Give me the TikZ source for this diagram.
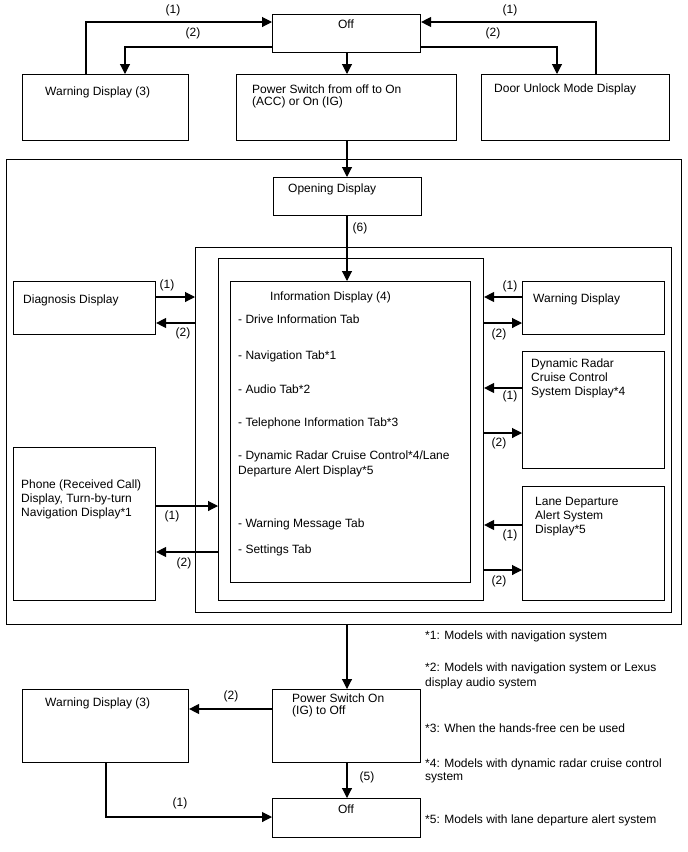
\documentclass[tikz,border=0pt]{standalone}
\usepackage{fontspec}
\setmainfont{Liberation Sans}
\usetikzlibrary{positioning, arrows.meta}

\begin{document}
\begin{tikzpicture}[x=1pt, y=-1pt,
    blk/.style={draw, line width=1.1pt, inner sep=0pt, anchor=north west},
    txt/.style={inner sep=0pt, anchor=base west, align=left,
      font=\fontsize{12}{14}\selectfont},
    tag/.style={inner sep=0pt, font=\fontsize{12}{12}\selectfont},
    arr/.style={-{Triangle[length=10pt, width=10pt]}, line width=1.1pt}]
  \useasboundingbox (0,0) rectangle (688,852);
  % top row
  \node[blk, minimum width=148pt, minimum height=38pt] (off1) at (272,14) {};
  \node[blk, minimum width=166pt, minimum height=66pt] (warn1) at (22,74) {};
  \node[blk, minimum width=220pt, minimum height=66pt] (pwr1) at (236,74) {};
  \node[blk, minimum width=188pt, minimum height=66pt] (door) at (481,74) {};
  \node[tag, anchor=base] (toff1) at (346,28) {Off};
  \node[txt] (twarn1) at (45,95) {Warning Display (3)};
  \node[txt, font=\fontsize{12}{12}\selectfont] (tpwr1) at (252,105) {Power Switch from off to On\\(ACC) or On (IG)};
  \node[txt] (tdoor) at (494,92) {Door Unlock Mode Display};
  \draw[arr] (warn1.north -| 86,0) |- (off1.west |- 0,22);
  \draw[arr] (off1.west |- 0,47) -| (warn1.north -| 125,0);
  \draw[arr] (door.north -| 596,0) |- (off1.east |- 0,22);
  \draw[arr] (off1.east |- 0,47) -| (door.north -| 557,0);
  \draw[arr] (off1.south -| 347,0) -- (pwr1.north -| 347,0);
  \node[tag] (l1a) at (173,10) {(1)};
  \node[tag] (l2a) at (193,33) {(2)};
  \node[tag] (l1b) at (510,10) {(1)};
  \node[tag] (l2b) at (493,33) {(2)};

  % frames
  \node[blk, minimum width=675pt, minimum height=465pt] (frame) at (6,159) {};
  \node[blk, minimum width=148pt, minimum height=38pt] (open) at (273,177) {};
  \node[txt] (topen) at (288,192) {Opening Display};
  \draw[arr] (pwr1.south -| 347,0) -- (open.north -| 347,0);
  \node[blk, minimum width=476pt, minimum height=365pt] (box2) at (195,247) {};
  \node[blk, minimum width=265pt, minimum height=342pt] (box3) at (218,258) {};
  \node[blk, minimum width=240pt, minimum height=301pt] (info) at (230,281) {};
  \draw[arr] (open.south -| 347,0) -- (info.north -| 347,0);
  \node[tag] (l6) at (360,228) {(6)};

  % information display
  \node[txt] (tinfo) at (270,300) {Information Display (4)};
  \foreach \y/\t [count=\i] in {323/Drive Information Tab, 359/Navigation Tab*1,
      393/Audio Tab*2, 426/Telephone Information Tab*3,
      474/{Dynamic Radar Cruise Control*4/Lane\\Departure Alert Display*5},
      527/Warning Message Tab, 553/Settings Tab}
    \node[txt, font=\fontsize{12}{15}\selectfont] (item\i) at (238,\y) {- \t};

  % left side
  \node[blk, minimum width=142pt, minimum height=53pt] (diag) at (13,281) {};
  \node[txt] (tdiag) at (23,303) {Diagnosis Display};
  \node[blk, minimum width=142pt, minimum height=153pt] (phone) at (13,447) {};
  \node[txt] (tphone) at (21,516) {Phone (Received Call)\\Display, Turn-by-turn\\Navigation Display*1};
  \draw[arr] (diag.east |- 0,297) -- (box2.west |- 0,297);
  \draw[arr] (box2.west |- 0,323) -- (diag.east |- 0,323);
  \draw[arr] (phone.east |- 0,506) -- (box3.west |- 0,506);
  \draw[arr] (box3.west |- 0,552) -- (phone.east |- 0,552);
  \node[tag] (l1c) at (167,285) {(1)};
  \node[tag] (l2c) at (183,333) {(2)};
  \node[tag] (l1d) at (172,516) {(1)};
  \node[tag] (l2d) at (184,563) {(2)};

  % right side
  \node[blk, minimum width=142pt, minimum height=53pt] (warn2) at (522,281) {};
  \node[txt] (twarn2) at (533,302) {Warning Display};
  \node[blk, minimum width=142pt, minimum height=117pt] (dyn) at (522,351) {};
  \node[txt] (tdyn) at (531,395) {Dynamic Radar\\Cruise Control\\System Display*4};
  \node[blk, minimum width=142pt, minimum height=114pt] (lane) at (522,486) {};
  \node[txt] (tlane) at (535,533) {Lane Departure\\Alert System\\Display*5};
  \foreach \n/\a/\b/\p/\q in {warn2/297/323/286/334, dyn/388/433/396/443, lane/525/570/535/581} {
    \draw[arr] (\n.west |- 0,\a) -- (box3.east |- 0,\a);
    \draw[arr] (box3.east |- 0,\b) -- (\n.west |- 0,\b);
    \node[tag] (p\n) at (510,\p) {(1)};
    \node[tag] (q\n) at (499,\q) {(2)};
  }

  % bottom
  \node[blk, minimum width=148pt, minimum height=73pt] (pwr2) at (272,689) {};
  \node[txt, font=\fontsize{12}{11.5}\selectfont] (tpwr2) at (292,714) {Power Switch On\\(IG) to Off};
  \node[blk, minimum width=166pt, minimum height=73pt] (warn3) at (22,689) {};
  \node[txt] (twarn3) at (45,706) {Warning Display (3)};
  \node[blk, minimum width=148pt, minimum height=39pt] (off2) at (272,798) {};
  \node[tag, anchor=base] (toff2) at (346,813) {Off};
  \draw[arr] (frame.south -| 347,0) -- (pwr2.north -| 347,0);
  \draw[arr] (pwr2.west |- 0,709) -- (warn3.east |- 0,709);
  \draw[arr] (pwr2.south -| 347,0) -- (off2.north -| 347,0);
  \draw[arr] (warn3.south -| 106,0) |- (off2.west |- 0,817);
  \node[tag] (l2e) at (231,696) {(2)};
  \node[tag] (l1e) at (180,803) {(1)};
  \node[tag] (l5) at (367,777) {(5)};

  % notes
  \node[txt] (n1) at (425,639) {*1: Models with navigation system};
  \node[txt, font=\fontsize{12}{15}\selectfont] (n2) at (425,686) {*2: Models with navigation system or Lexus\\display audio system};
  \node[txt] (n3) at (425,732) {*3: When the hands-free cen be used};
  \node[txt, font=\fontsize{12}{13}\selectfont] (n4) at (425,780) {*4: Models with dynamic radar cruise control\\system};
  \node[txt] (n5) at (425,823) {*5: Models with lane departure alert system};
\end{tikzpicture}
\end{document}
